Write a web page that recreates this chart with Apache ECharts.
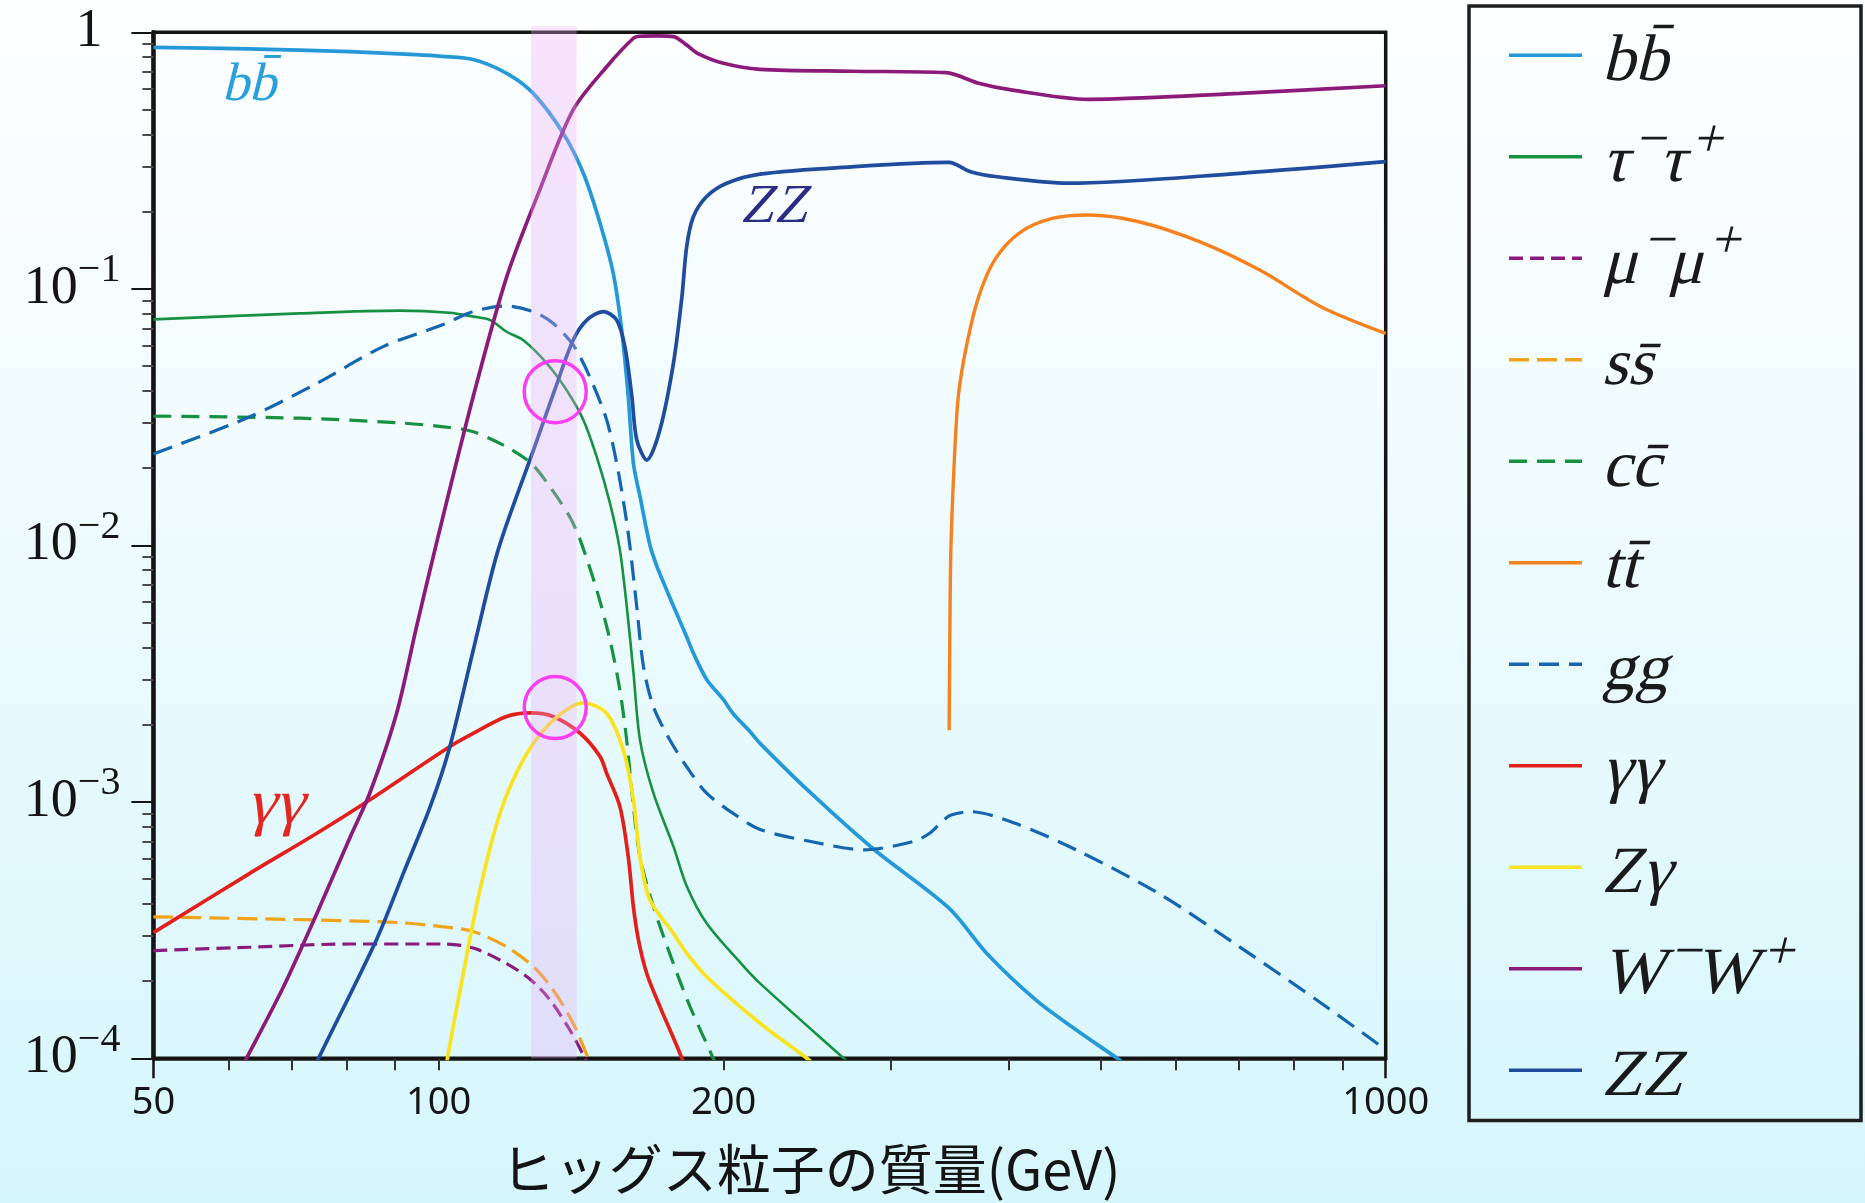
<!DOCTYPE html>
<html lang="ja">
<head>
<meta charset="utf-8">
<title>ヒッグス粒子の崩壊分岐比</title>
<script src="https://cdn.jsdelivr.net/npm/echarts@6/dist/echarts.min.js"></script>
<style>
  html, body { margin: 0; padding: 0; }
  body {
    width: 1865px; height: 1203px; overflow: hidden;
    background: linear-gradient(to bottom, #fdfeff 0%, #eefbfe 45%, #d5f6fc 100%);
  }
  #chart { width: 1865px; height: 1203px; }
</style>
</head>
<body>
<div id="chart"></div>
<script>
// ---- Branching ratios: [Higgs mass (GeV), branching ratio] per decay channel ----
const bbData = [[50,0.874],[63,0.861],[80.6,0.84],[94.7,0.818],[100.8,0.806],[108.8,0.783],[118,0.692],[125.9,0.578],[135.4,0.404],[142.2,0.282],[148.1,0.18],[152.9,0.115],[156.1,0.069],[158.6,0.038],[160.6,0.0209],[163.2,0.0155],[167.2,0.0100],[170,0.0083],[174.1,0.0067],[177,0.0058],[182.8,0.0044],[185.8,0.0038],[191.9,0.0030],[199.9,0.0025],[204.8,0.0022],[213.2,0.00188],[218.5,0.00169],[247.3,0.00108],[288.5,6.5e-4],[345.9,3.85e-4],[379,2.57e-4],[427.1,1.69e-4],[471.4,1.29e-4],[520.6,1.0e-4],[546,8.8e-5]];
const tauData = [[50,0.076],[71.4,0.0802],[91,0.0822],[102.7,0.0807],[108.8,0.0779],[113.4,0.0755],[118,0.068],[122.9,0.063],[130.1,0.0512],[136.5,0.0403],[142.2,0.0308],[146.9,0.0221],[151.7,0.0146],[155.4,0.0096],[158,0.0058],[160.6,0.0032],[163.2,0.00174],[168.6,1.08e-3],[177,6.7e-4],[182.8,4.7e-4],[191.9,3.36e-4],[208.7,2.34e-4],[218.5,1.96e-4],[267.8,1.0e-4],[277.6,8.9e-5]];
const muData = [[50,2.63e-4],[63.2,2.71e-4],[80.7,2.79e-4],[101.6,2.79e-4],[108.8,2.69e-4],[118,2.34e-4],[125.2,2.02e-4],[131.1,1.69e-4],[137.6,1.29e-4],[142.8,1.0e-4],[145,9.0e-5]];
const ssData = [[50,3.56e-4],[74.4,3.46e-4],[91,3.38e-4],[100.8,3.26e-4],[108.8,3.12e-4],[118,2.72e-4],[125.9,2.28e-4],[132.1,1.85e-4],[138.7,1.37e-4],[143.9,1.0e-4],[146,8.8e-5]];
const ccData = [[50,0.0319],[71.4,0.0313],[91,0.030],[102.7,0.0288],[108.8,0.0277],[118,0.0242],[125.2,0.0209],[131.1,0.0169],[137.6,0.0129],[141.1,0.0105],[146.9,0.0067],[151.7,0.00427],[155.4,0.00273],[158,0.00174],[160.6,9.6e-4],[163.2,6.1e-4],[168.6,3.9e-4],[177,2.34e-4],[184.3,1.59e-4],[195,1.0e-4],[198.7,8.5e-5]];
const ttData = [[346.0,1.9e-3],[346.6,4.5e-3],[347.5,9.7e-3],[350.3,0.0209],[353.8,0.038],[360.8,0.0595],[371.7,0.093],[386.7,0.13],[410.3,0.165],[444.4,0.188],[485.7,0.194],[547.3,0.183],[635,0.153],[737.1,0.118],[855.1,0.085],[1000,0.067]];
const ggData = [[50,0.0227],[63.2,0.0317],[74.4,0.0428],[87.4,0.0595],[100.8,0.0722],[108.8,0.0815],[118,0.0857],[125.9,0.0815],[132.1,0.0734],[138.7,0.0604],[144.4,0.0454],[150.5,0.0308],[154.2,0.0209],[157.3,0.0137],[159.2,0.0100],[161.9,0.00577],[164.6,0.00336],[168.6,0.00235],[175.5,0.00174],[182.8,1.37e-3],[191.9,1.08e-3],[204.8,9.0e-4],[218.5,7.8e-4],[247.3,7.0e-4],[281.3,6.5e-4],[317.1,7.0e-4],[330,7.54e-4],[340,8.37e-4],[347.7,8.88e-4],[364.6,9.15e-4],[406.4,8.24e-4],[471.4,6.49e-4],[575.3,4.4e-4],[700.9,2.72e-4],[855.1,1.64e-4],[1000,1.08e-4]];
const gamgamData = [[50,3.09e-4],[63.2,5.26e-4],[74.4,7.54e-4],[84,1.0e-3],[102.7,1.64e-3],[108.8,1.85e-3],[118,2.15e-3],[125.2,2.22e-3],[132.1,2.15e-3],[141.1,1.85e-3],[148.1,1.5e-3],[150.5,1.29e-3],[155.4,9.6e-4],[158.6,6.1e-4],[160.6,3.9e-4],[162.6,2.89e-4],[165.9,2.14e-4],[171.3,1.59e-4],[180.7,1.0e-4],[183.7,8.2e-5]];
const zgamData = [[101.3,7.8e-5],[102.2,1.0e-4],[106.2,2.14e-4],[110.6,4.54e-4],[116.1,9.0e-4],[122.9,1.46e-3],[131.1,2.02e-3],[142.2,2.43e-3],[150.5,2.21e-3],[156.7,1.59e-3],[160.6,1.02e-3],[163.2,6.1e-4],[167.2,4.14e-4],[177,3.07e-4],[182.8,2.57e-4],[191.9,2.08e-4],[218.5,1.37e-4],[244.8,1.0e-4],[252.3,9.05e-5]];
const wwData = [[60.9,8.2e-5],[62.7,1.0e-4],[68.6,1.9e-4],[74.4,3.67e-4],[80.7,7.31e-4],[84.6,1.08e-3],[90.3,2.21e-3],[94.8,4.82e-3],[99.7,0.0105],[108.8,0.038],[118,0.111],[127.9,0.243],[138.7,0.498],[150.5,0.734],[160.6,0.948],[163.2,0.965],[170,0.968],[177,0.962],[182.8,0.892],[187.7,0.828],[199.9,0.757],[218.5,0.717],[273,0.705],[343.5,0.696],[371.7,0.633],[402.3,0.596],[485.7,0.548],[700.9,0.578],[1000,0.619]];
const zzData = [[73.0,8.3e-5],[74.7,1.0e-4],[86,2.9e-4],[91.8,5.26e-4],[98,9.57e-4],[102.7,1.62e-3],[108.8,3.9e-3],[115.6,0.0096],[125.9,0.0234],[132.7,0.0405],[138.7,0.063],[143.4,0.0755],[149.3,0.0815],[154.2,0.0755],[157.3,0.0595],[160,0.038],[161.9,0.0258],[165.9,0.0215],[171.3,0.0282],[177,0.0512],[180.7,0.093],[182.8,0.146],[185.8,0.191],[191.9,0.229],[201.5,0.258],[218.5,0.28],[273.1,0.299],[345.6,0.311],[364.6,0.286],[386.7,0.274],[462.2,0.258],[700.9,0.282],[1000,0.313]];

// Highlighted mass window and the two circled crossings
const bandRange = [125.2, 139.9];
const circleData = [[132.8, 0.0397], [132.8, 0.00233]];

// Curve labels written inside the plot: [mass, ratio] and their texts
const annotationPoints = [[63.6, 0.62], [228.0, 0.207], [67.9, 9.6e-4]];
const annotationTexts = ['bb\u0304', 'ZZ', 'γγ'];

// Axis ranges and tick positions
const massRange = [50, 1000];
const ratioRange = [1e-4, 1];
const xLabelValues = [50, 100, 200, 1000];
const xMinorTicks = [60, 70, 80, 90, 100, 200, 300, 400, 500, 600, 700, 800, 900];
const xEndTicks = [50, 1000];
const yMinorTicks = [];
for (let e = -4; e < 0; e++) {
  for (let k = 2; k <= 9; k++) yMinorTicks.push(e + Math.log10(k));
}

const xTitle = 'ヒッグス粒子の質量(GeV)';

// ---- Styling ----
const SERIF = '"Liberation Serif", "DejaVu Serif", serif';
const SANS = '"Noto Sans", "DejaVu Sans", sans-serif';
const INK = '#141414';
const SLANT = -0.245;   // math-italic slant applied to upright serif glyphs

const channels = [
  { name: 'bb\u0304',          data: bbData,     color: '#2599d8', width: 3.7 },
  { name: 'τ\u207Bτ\u207A',    data: tauData,    color: '#16913f', width: 2.6 },
  { name: 'μ\u207Bμ\u207A',    data: muData,     color: '#8a1a7e', width: 3.2, dash: [14, 7] },
  { name: 'ss\u0304',          data: ssData,     color: '#f0a318', width: 3.2, dash: [20, 8] },
  { name: 'cc\u0304',          data: ccData,     color: '#16913f', width: 3.2, dash: [18, 10] },
  { name: 'tt\u0304',          data: ttData,     color: '#f5821f', width: 3.4 },
  { name: 'gg',                data: ggData,     color: '#1565b0', width: 3.2, dash: [20, 10] },
  { name: 'γγ',                data: gamgamData, color: '#e31f1b', width: 3.7 },
  { name: 'Zγ',                data: zgamData,   color: '#f9e21e', width: 3.7 },
  { name: 'W\u207BW\u207A',    data: wwData,     color: '#8b1a7b', width: 3.7 },
  { name: 'ZZ',                data: zzData,     color: '#1f4c9c', width: 3.7 }
];

const legendText = {
  'bb\u0304':       '{m|bb\u0304}',
  'τ\u207Bτ\u207A': '{m|τ}{s|−}{m|τ}{s|+}',
  'μ\u207Bμ\u207A': '{m|μ}{s|−}{m|μ}{s|+}',
  'ss\u0304':       '{m|ss\u0304}',
  'cc\u0304':       '{m|cc\u0304}',
  'tt\u0304':       '{m|tt\u0304}',
  'gg':             '{m|gg}',
  'γγ':             '{m|γγ}',
  'Zγ':             '{m|Zγ}',
  'W\u207BW\u207A': '{m|W}{s|−}{m|W}{s|+}',
  'ZZ':             '{m|ZZ}'
};
const legendRich = {
  m: { fontFamily: SERIF, fontSize: 66, fill: '#1a1a1a' },
  s: { fontFamily: SERIF, fontSize: 54, padding: [0, 0, 44, 0], fill: '#1a1a1a' }
};

const annotationColors = ['#27a0dc', '#2b2c85', '#e3261f'];
const annotationSizes = [54, 55, 64];

// Legend box: one sample line and one label per channel
const legendBox = { x: 1469, y: 6, width: 392, height: 1114.5 };
const legendRow = { y0: 55.3, step: 101.5, lineX1: 1509, lineX2: 1582, textX: 1606, textDy: 7 };
const legendElements = [{
  type: 'rect', silent: true, z: 10,
  shape: legendBox,
  style: { fill: 'transparent', stroke: '#1e1e1e', lineWidth: 3.5 }
}];
channels.forEach((c, i) => {
  const y = legendRow.y0 + i * legendRow.step;
  legendElements.push({
    type: 'line', silent: true, z: 10,
    shape: { x1: legendRow.lineX1, y1: y, x2: legendRow.lineX2, y2: y },
    style: { stroke: c.color, lineWidth: 3.4, lineDash: c.dash || null }
  });
  legendElements.push({
    type: 'text', silent: true, z: 10,
    x: legendRow.textX, y: y + legendRow.textDy, skewX: SLANT,
    style: {
      text: legendText[c.name], rich: legendRich,
      fontFamily: SERIF, fontSize: 66, fill: '#1a1a1a',
      align: 'left', verticalAlign: 'middle'
    }
  });
});

const lineSeries = channels.map(c => ({
  type: 'line',
  name: c.name,
  data: c.data,
  xAxisIndex: 0,
  yAxisIndex: 0,
  symbol: 'none',
  smooth: 0.3,
  clip: true,
  lineStyle: { color: c.color, width: c.width, type: c.dash || 'solid', cap: 'butt' },
  itemStyle: { color: c.color },
  emphasis: { disabled: true },
  z: 3
}));

const option = {
  animation: false,
  backgroundColor: 'transparent',
  grid: {
    left: 153.4, right: 479.3, top: 32.3, bottom: 144.7,
    show: true, borderColor: INK, borderWidth: 3.5, backgroundColor: 'transparent',
    containLabel: false, outerBoundsMode: 'none'
  },
  xAxis: [
    { type: 'log', logBase: 10, min: massRange[0], max: massRange[1], show: false },
    {
      type: 'value', min: Math.log10(massRange[0]), max: Math.log10(massRange[1]), position: 'bottom',
      axisLine: { show: true, onZero: false, lineStyle: { color: INK, width: 3.5 } },
      axisTick: { show: true, customValues: xMinorTicks.map(Math.log10), length: 12, lineStyle: { color: '#333', width: 2 } },
      axisLabel: {
        show: true, customValues: xLabelValues.map(Math.log10), margin: 26,
        formatter: v => String(Math.round(Math.pow(10, v))),
        fontSize: 38, fontFamily: SANS, color: INK
      },
      splitLine: { show: false },
      name: xTitle, nameLocation: 'middle', nameGap: 84,
      nameTextStyle: { fontSize: 54, fontFamily: '"Noto Sans CJK JP", sans-serif', color: INK, padding: [0, 0, 0, 82] }
    },
    {
      type: 'value', min: Math.log10(massRange[0]), max: Math.log10(massRange[1]), position: 'bottom',
      axisLine: { show: false, onZero: false },
      axisTick: { show: true, customValues: xEndTicks.map(Math.log10), length: 20, lineStyle: { color: INK, width: 2.5 } },
      axisLabel: { show: false },
      splitLine: { show: false }
    }
  ],
  yAxis: [
    {
      type: 'log', logBase: 10, min: ratioRange[0], max: ratioRange[1], position: 'left',
      axisLine: { show: true, onZero: false, lineStyle: { color: INK, width: 4.5 } },
      axisTick: { show: true, length: 22, lineStyle: { color: INK, width: 2 } },
      axisLabel: {
        margin: 33, showMinLabel: true, showMaxLabel: true,
        formatter: v => {
          const e = Math.round(Math.log10(v));
          return e === 0 ? '{one|1}' : '{b|10}{e|−' + (-e) + '}';
        },
        rich: {
          b:   { fontFamily: SERIF, fontSize: 54, lineHeight: 56, color: INK },
          e:   { fontFamily: SERIF, fontSize: 40, lineHeight: 40, padding: [0, 0, 36, 0], color: INK },
          one: { fontFamily: SERIF, fontSize: 54, lineHeight: 56, padding: [0, 18, 0, 0], color: INK }
        }
      },
      splitLine: { show: false },
      minorTick: { show: false }
    },
    {
      type: 'value', min: Math.log10(ratioRange[0]), max: Math.log10(ratioRange[1]), position: 'left',
      axisLine: { show: false, onZero: false },
      axisTick: { show: true, customValues: yMinorTicks, length: 11, lineStyle: { color: '#4a4a4a', width: 2 } },
      axisLabel: { show: false },
      splitLine: { show: false }
    }
  ],
  graphic: legendElements,
  series: lineSeries.concat([
    {
      type: 'custom', name: 'window', xAxisIndex: 0, yAxisIndex: 0,
      data: [bandRange], z: 5, silent: true,
      renderItem: (params, api) => {
        const tl = api.coord([api.value(0), ratioRange[1]]);
        const br = api.coord([api.value(1), ratioRange[0]]);
        return {
          type: 'rect',
          shape: { x: tl[0], y: tl[1] - 6, width: br[0] - tl[0], height: br[1] - tl[1] + 6 },
          style: { fill: 'rgba(236,170,246,0.32)' }
        };
      }
    },
    {
      type: 'scatter', name: 'marks', xAxisIndex: 0, yAxisIndex: 0,
      data: circleData, symbol: 'circle', symbolSize: 62, z: 6, silent: true,
      itemStyle: { color: 'rgba(0,0,0,0)', borderColor: '#fb3ff0', borderWidth: 3.5, opacity: 1 },
      emphasis: { disabled: true }
    },
    {
      type: 'custom', name: 'curveLabels', xAxisIndex: 0, yAxisIndex: 0,
      data: annotationPoints, z: 7, silent: true,
      renderItem: (params, api) => {
        const p = api.coord([api.value(0), api.value(1)]);
        const i = params.dataIndex;
        return {
          type: 'text', x: p[0], y: p[1], skewX: SLANT,
          style: {
            text: annotationTexts[i], fontFamily: SERIF, fontSize: annotationSizes[i],
            fill: annotationColors[i], align: 'center', verticalAlign: 'middle'
          }
        };
      }
    }
  ])
};

const chart = echarts.init(document.getElementById('chart'), null, { renderer: 'canvas', width: 1865, height: 1203 });
chart.setOption(option);
</script>
</body>
</html>
